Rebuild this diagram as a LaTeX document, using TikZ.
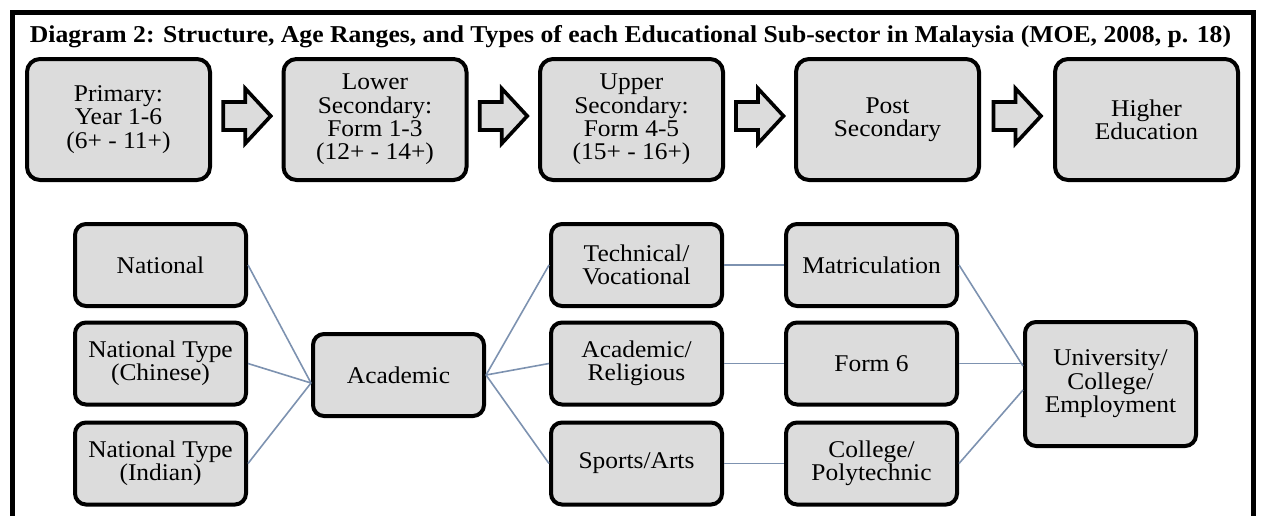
\documentclass[tikz,border=0pt]{standalone}
\usepackage{fontspec}
\setmainfont[FakeStretch=1.06]{Liberation Serif}
\usetikzlibrary{calc}
\definecolor{boxfill}{RGB}{220,220,220}
\definecolor{connc}{RGB}{125,146,176}
\begin{document}
\begin{tikzpicture}[x=0.5pt,y=-0.5pt,
  basebox/.style={draw=black, line width=2pt, fill=boxfill, align=center, inner sep=0pt,
    font=\fontsize{12}{11.7}\selectfont},
  topbox/.style={basebox, rounded corners=6.5pt, minimum width=91.5pt, minimum height=60.5pt},
  lowbox/.style={basebox, rounded corners=5.5pt, minimum width=85.5pt, minimum height=41pt},
  tallbox/.style={lowbox, minimum height=62pt},
  blockarr/.style={draw=black, line width=1.8pt, fill=boxfill, line join=miter},
  connline/.style={draw=connc, line width=0.8pt},
  frameline/.style={draw=black, line width=2.6pt}]
\useasboundingbox (0,0) rectangle (1261,515);
\draw[frameline] (12.5,530) -- (12.5,12.5) -- (1253.5,12.5) -- (1253.5,530);
\node[anchor=base, font=\bfseries\fontsize{12.1}{13}\selectfont] (title) at (630.5,42)
  {Diagram 2: Structure, Age Ranges, and Types of each Educational Sub-sector in Malaysia (MOE, 2008, p. 18)};
% top row
\node[topbox] (p1) at (118.5,119.5) {Primary:\\Year 1-6\\(6+ - 11+)};
\node[topbox] (p2) at (375,119.5) {Lower\\Secondary:\\Form 1-3\\(12+ - 14+)};
\node[topbox] (p3) at (631.5,119.5) {Upper\\Secondary:\\Form 4-5\\(15+ - 16+)};
\node[topbox] (p4) at (887.5,119.5) {Post\\Secondary};
\node[topbox] (p5) at (1146.5,119.5) {Higher\\Education};
\foreach \a/\b [count=\i] in {p1/p2,p2/p3,p3/p4,p4/p5}{
  \coordinate (ar\i) at ($(\a.east)!0.5!(\b.west)+(0,-3.5)$);
  \draw[blockarr] (ar\i) ++(-23.5,-14) -- ++(22,0) -- ++(0,-13.5) -- ++(25.5,27.5)
     -- ++(-25.5,27.5) -- ++(0,-13.5) -- ++(-22,0) -- cycle;
}
% bottom
\node[lowbox] (nat) at (160.5,265) {National};
\node[lowbox] (chi) at (160.5,363.5) {National Type\\(Chinese)};
\node[lowbox] (ind) at (160.5,463.5) {National Type\\(Indian)};
\node[lowbox] (aca) at (398.5,375) {Academic};
\node[lowbox] (tec) at (636.5,265) {Technical/\\Vocational};
\node[lowbox] (rel) at (636.5,363.5) {Academic/\\Religious};
\node[lowbox] (spo) at (636.5,463.5) {Sports/Arts};
\node[lowbox] (mat) at (871.5,265) {Matriculation};
\node[lowbox] (fo6) at (871.5,363.5) {Form 6};
\node[lowbox] (col) at (871.5,463.5) {College/\\Polytechnic};
\node[tallbox] (uni) at (1110.5,384) {University/\\College/\\Employment};
% connectors
\coordinate (acin) at ([yshift=-4pt]aca.west);
\draw[connline] (nat.east) -- (acin);
\draw[connline] (chi.east) -- (acin);
\draw[connline] (ind.east) -- (acin);
\draw[connline] (aca.east) -- (tec.west);
\draw[connline] (aca.east) -- (rel.west);
\draw[connline] (aca.east) -- (spo.west);
\draw[connline] (tec.east) -- (mat.west);
\draw[connline] (rel.east) -- (fo6.west);
\draw[connline] (spo.east) -- (col.west);
\draw[connline] (mat.east) -- ([yshift=9pt]uni.west);
\draw[connline] (fo6.east) -- (fo6.east -| uni.west);
\draw[connline] (col.east) -- ([yshift=-3pt]uni.west);
\end{tikzpicture}
\end{document}
